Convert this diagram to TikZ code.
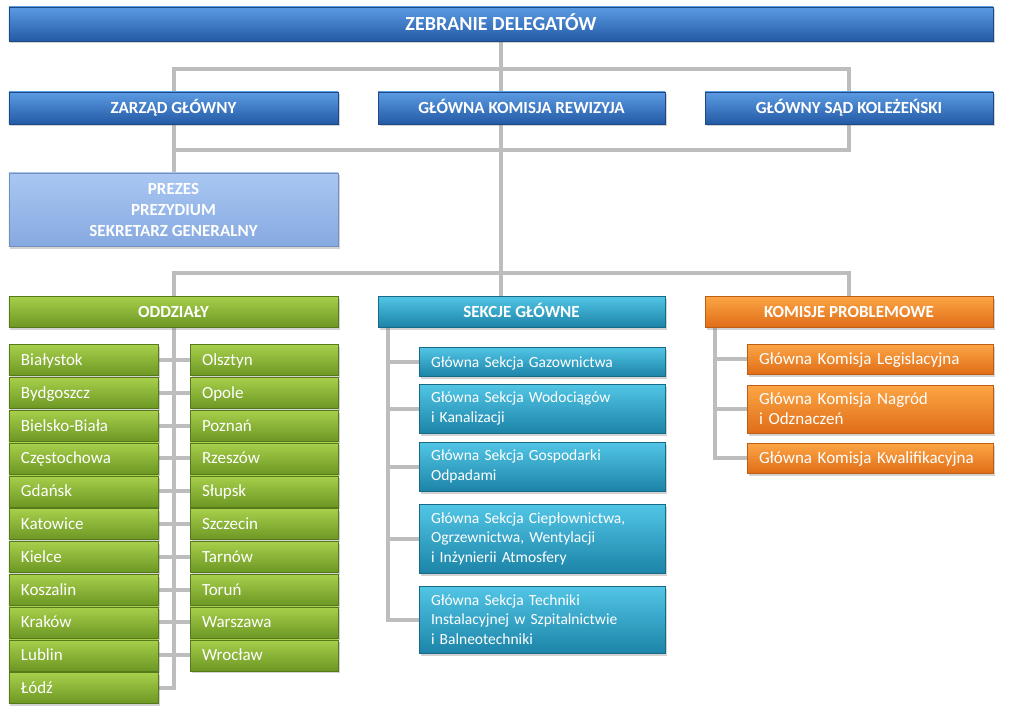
\documentclass[tikz,border=0pt]{standalone}
\usepackage{fontspec}
\setmainfont{Carlito}
\usetikzlibrary{shadings,shadows,backgrounds,positioning}
\definecolor{blueT}{HTML}{5B9BE3}
\definecolor{blueB}{HTML}{245AA5}
\definecolor{paleT}{HTML}{A9C7F2}
\definecolor{paleB}{HTML}{86A9E0}
\definecolor{greenT}{HTML}{A8D04C}
\definecolor{greenB}{HTML}{6C9723}
\definecolor{tealT}{HTML}{52C6E6}
\definecolor{tealB}{HTML}{1C84A8}
\definecolor{orangeT}{HTML}{FCA646}
\definecolor{orangeB}{HTML}{E06D17}
\definecolor{linkgray}{HTML}{BDBDBD}
\tikzset{
	box/.style={rectangle, inner sep=0pt, text=white,
		font=\fontsize{17bp}{20bp}\selectfont,
		drop shadow={opacity=0.35, shadow xshift=1.5bp, shadow yshift=-2.5bp}},
	head/.style={box, font=\fontsize{17bp}{21bp}\selectfont\bfseries, align=center},
	item/.style={box, align=left, inner xsep=12bp},
	oneline/.style={text height=14bp, text depth=3bp},
	small/.style={font=\fontsize{15.5bp}{19.5bp}\selectfont},
	bluebox/.style={top color=blueT, bottom color=blueB, draw=blueB!80!black, line width=0.4bp},
	palebox/.style={top color=paleT, bottom color=paleB, draw=paleB!85!black, line width=0.4bp},
	greenbox/.style={top color=greenT, bottom color=greenB, draw=greenB!80!black, line width=0.4bp},
	tealbox/.style={top color=tealT, bottom color=tealB, draw=tealB!80!black, line width=0.4bp},
	orangebox/.style={top color=orangeT, bottom color=orangeB, draw=orangeB!85!black, line width=0.4bp},
	link/.style={draw=linkgray, line width=4bp}
}

\begin{document}
\begin{tikzpicture}[x=1bp, y=-1bp]
	\useasboundingbox (0,0) rectangle (1009,718);
	\node[head, bluebox, minimum width=984bp, minimum height=34bp, text height=16bp, text depth=3bp,
		font=\fontsize{20bp}{24bp}\selectfont\bfseries] (zd) at (501,24) {ZEBRANIE DELEGATÓW};
	\node[head, oneline, bluebox, minimum width=329bp, minimum height=32bp] (zg) at (173.5,108) {ZARZĄD GŁÓWNY};
	\node[head, oneline, bluebox, minimum width=287bp, minimum height=32bp] (gkr) at (521.5,108) {GŁÓWNA KOMISJA REWIZYJA};
	\node[head, oneline, bluebox, minimum width=288bp, minimum height=32bp] (gsk) at (849,108) {GŁÓWNY SĄD KOLEŻEŃSKI};
	\node[head, palebox, minimum width=329bp, minimum height=73bp] (pre) at (173.5,209.5) {PREZES\\PREZYDIUM\\SEKRETARZ GENERALNY};
	\node[head, oneline, greenbox, minimum width=329bp, minimum height=31bp] (odd) at (173.5,311.5) {ODDZIAŁY};
	\node[head, oneline, tealbox, minimum width=287bp, minimum height=31bp] (sek) at (521.5,311.5) {SEKCJE GŁÓWNE};
	\node[head, oneline, orangebox, minimum width=288bp, minimum height=31bp] (kom) at (849,311.5) {KOMISJE PROBLEMOWE};

	\foreach \name [count=\i] in {Białystok, Bydgoszcz, Bielsko-Biała, Częstochowa, Gdańsk, Katowice, Kielce, Koszalin, Kraków, Lublin, Łódź}
		\node[item, oneline, greenbox, text width=125bp, minimum height=31bp] (l\i) at (83.5,{360+32.8*(\i-1)}) {\name};
	\foreach \name [count=\i] in {Olsztyn, Opole, Poznań, Rzeszów, Słupsk, Szczecin, Tarnów, Toruń, Warszawa, Wrocław}
		\node[item, oneline, greenbox, text width=124bp, minimum height=31bp] (r\i) at (264,{360+32.8*(\i-1)}) {\name};

	\node[item, small, oneline, tealbox, text width=222bp, minimum height=29bp] (s1) at (542,361.5) {Główna Sekcja Gazownictwa};
	\node[item, small, tealbox, text width=222bp, minimum height=49bp] (s2) at (542,408.5) {Główna Sekcja Wodociągów\\i Kanalizacji};
	\node[item, small, tealbox, text width=222bp, minimum height=49bp] (s3) at (542,466.5) {Główna Sekcja Gospodarki\\Odpadami};
	\node[item, small, tealbox, text width=222bp, minimum height=69bp] (s4) at (542,538.5) {Główna Sekcja Ciepłownictwa,\\Ogrzewnictwa, Wentylacji\\i Inżynierii Atmosfery};
	\node[item, small, tealbox, text width=222bp, minimum height=67bp] (s5) at (542,619.5) {Główna Sekcja Techniki\\Instalacyjnej w Szpitalnictwie\\i Balneotechniki};

	\node[item, oneline, orangebox, text width=222bp, minimum height=30bp] (k1) at (870,359) {Główna Komisja Legislacyjna};
	\node[item, orangebox, text width=222bp, minimum height=48bp] (k2) at (870,409) {Główna Komisja Nagród\\i Odznaczeń};
	\node[item, oneline, orangebox, text width=222bp, minimum height=30bp] (k3) at (870,458) {Główna Komisja Kwalifikacyjna};

	\coordinate (bar1) at (0,69);
	\coordinate (bar2) at (0,150);
	\coordinate (bar3) at (0,273);
	\coordinate (sekbar) at ([xshift=10bp]sek.south west);
	\coordinate (kombar) at ([xshift=10bp]kom.south west);

	\begin{scope}[on background layer]
		\draw[link] (zd.south) -- (zd.south |- sek.north);
		\draw[link] (zg.north) |- (bar1 -| gsk.north) -- (gsk.north);
		\draw[link] (zg.south) -- (pre.north);
		\draw[link] (bar2 -| zg.south) -| (gsk.south);
		\draw[link] (odd.north) |- (bar3 -| kom.north) -- (kom.north);
		\draw[link] (odd.south) |- (l11.east);
		\foreach \i in {1,...,10}
			\draw[link] (l\i.east) -- (r\i.west);
		\draw[link] (sekbar) |- (s5.west);
		\foreach \i in {1,...,4}
			\draw[link] (sekbar |- s\i.west) -- (s\i.west);
		\draw[link] (kombar) |- (k3.west);
		\foreach \i in {1,2}
			\draw[link] (kombar |- k\i.west) -- (k\i.west);
	\end{scope}
\end{tikzpicture}
\end{document}
